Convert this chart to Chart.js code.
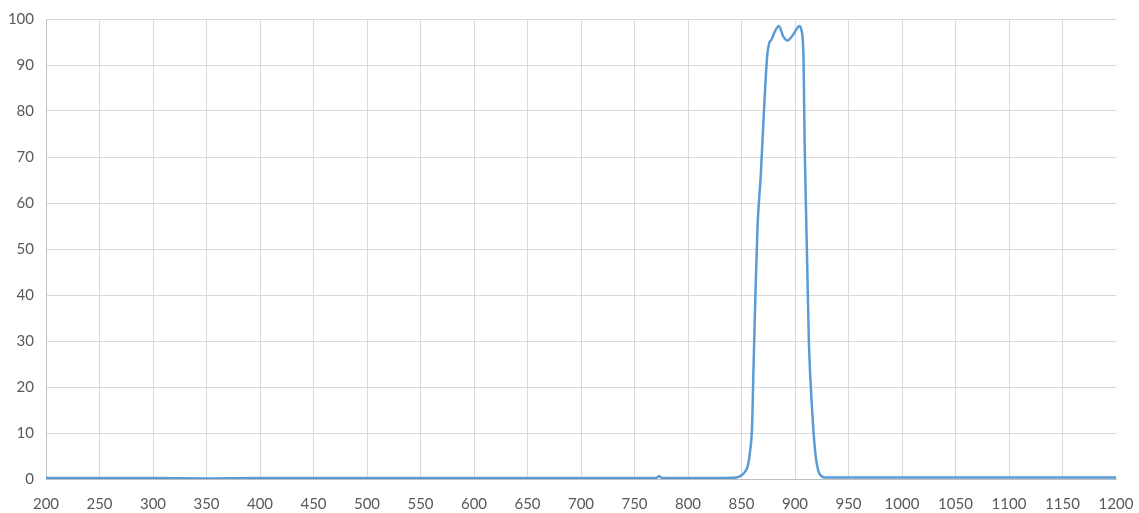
<!DOCTYPE html>
<html>
<head>
<meta charset="utf-8">
<script src="https://cdn.jsdelivr.net/npm/chart.js@4/dist/chart.umd.min.js"></script>
<style>
  html, body { margin: 0; padding: 0; background: #fff; }
  #wrap { width: 1139px; height: 513px; }
</style>
</head>
<body>
<div id="wrap"><canvas id="specChart"></canvas></div>
<script>
// Wavelength (nm) and transmittance (%)
const wavelengths = [200, 250, 300, 350, 400, 450, 500, 550, 600, 650, 700, 750, 770, 773, 776, 800, 830, 845,
  850, 853, 856, 858, 860, 861, 863, 865, 868, 871, 874, 876, 878, 881, 885, 889, 893, 897, 901, 904, 906,
  908, 909, 911, 913, 916, 919, 922, 925, 928, 940, 1000, 1050, 1100, 1150, 1200];
const transmittance = [0.2, 0.2, 0.2, 0.1, 0.2, 0.2, 0.2, 0.2, 0.2, 0.2, 0.2, 0.2, 0.2, 0.6, 0.2, 0.2, 0.2, 0.3,
  0.8, 1.5, 3, 6, 12, 22, 40, 55, 66, 80, 92, 94.8, 95.5, 97.2, 98.5, 96.2, 95.3, 96.2, 97.6, 98.5, 97.6,
  91, 73, 51, 29.6, 15, 5.6, 1.6, 0.6, 0.3, 0.3, 0.3, 0.3, 0.3, 0.3, 0.3];
const xTicks = [200, 1200, 50];   // min, max, step
const yTicks = [0, 100, 10];

const points = wavelengths.map((w, i) => ({ x: w, y: transmittance[i] }));

const tickFont = { family: 'Lato, "Open Sans", sans-serif', size: 15 };

new Chart(document.getElementById('specChart'), {
  type: 'line',
  data: {
    datasets: [{
      data: points,
      borderColor: '#5b9bd5',
      borderWidth: 2.5,
      pointRadius: 0,
      fill: false,
      cubicInterpolationMode: 'monotone'
    }]
  },
  options: {
    responsive: true,
    maintainAspectRatio: false,
    animation: false,
    layout: { padding: { top: 19, right: 23, left: 0, bottom: 0 } },
    plugins: { legend: { display: false }, tooltip: { enabled: false } },
    scales: {
      x: {
        type: 'linear',
        min: xTicks[0],
        max: xTicks[1],
        ticks: {
          stepSize: xTicks[2], color: '#595959', font: tickFont, padding: 16, maxRotation: 0,
          callback: v => String(v)
        },
        grid: {
          drawTicks: false,
          color: ctx => (ctx.tick && ctx.tick.value === xTicks[1]) ? 'rgba(0,0,0,0)' : '#d9d9d9'
        },
        border: { color: '#bfbfbf', width: 1 },
        afterFit: axis => {
          axis.height = 34;
          axis.paddingLeft = 0;
          axis.paddingRight = 0;
        }
      },
      y: {
        min: yTicks[0],
        max: yTicks[1],
        ticks: { stepSize: yTicks[2], color: '#595959', font: tickFont, padding: 12 },
        grid: { drawTicks: false, color: '#d9d9d9' },
        border: { color: '#bfbfbf', width: 1 },
        afterFit: axis => {
          axis.width = 46;
          axis.paddingTop = 0;
          axis.paddingBottom = 0;
        }
      }
    }
  }
});
</script>
</body>
</html>
